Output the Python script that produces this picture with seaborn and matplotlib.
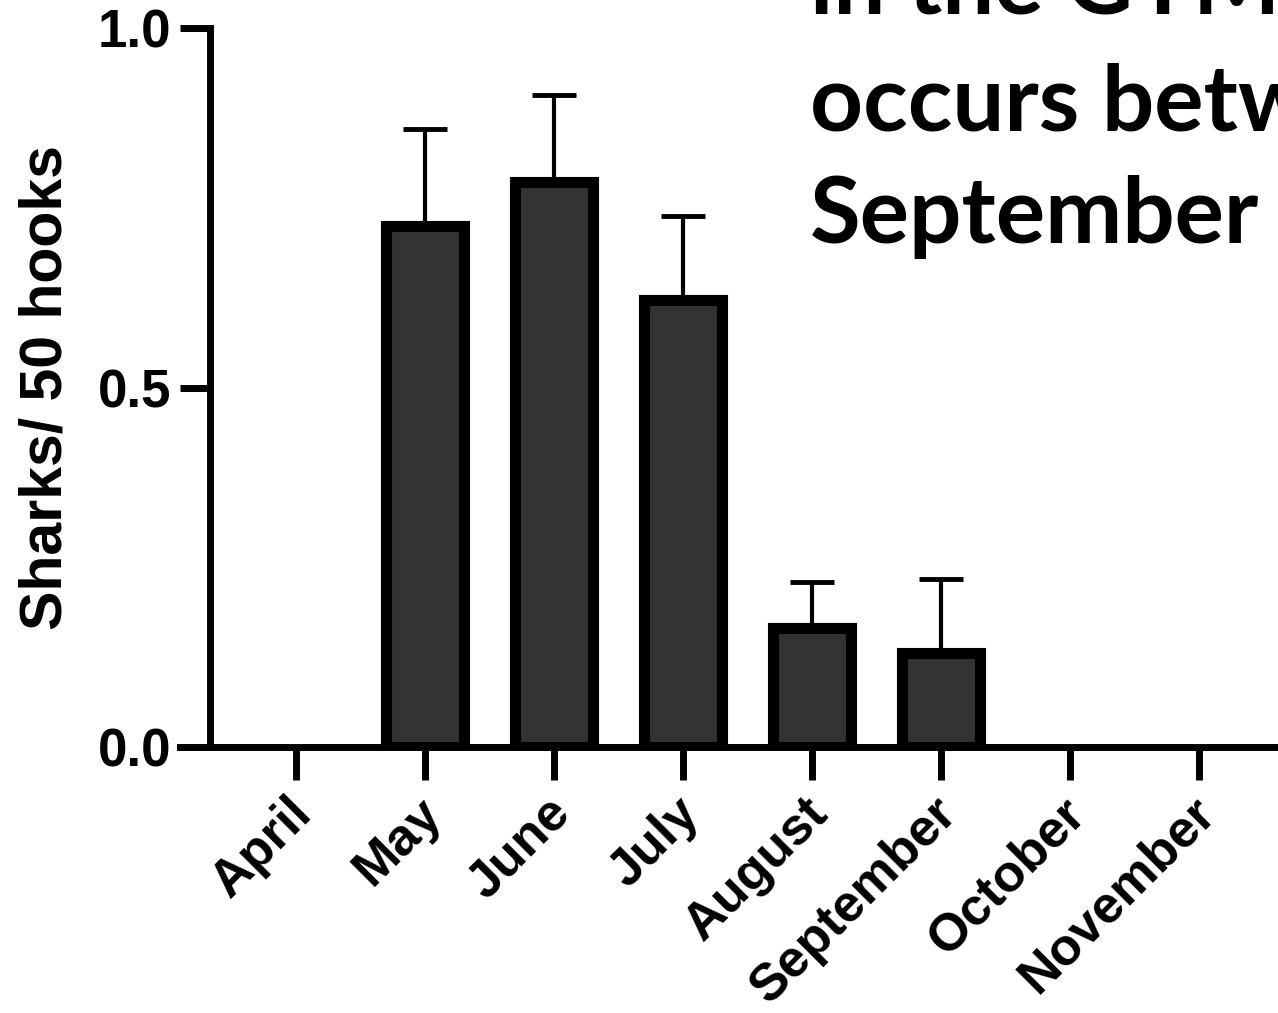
import matplotlib
matplotlib.use("Agg")
import matplotlib.pyplot as plt
import matplotlib.transforms as mtrans
import seaborn as sns
import pandas as pd
import numpy as np

# ---- data ----
months = ["April", "May", "June", "July", "August", "September", "October", "November"]
catch_rate = [0.0, 0.725, 0.786, 0.622, 0.166, 0.131, 0.0, 0.0]
err_upper = [0.0, 0.135, 0.121, 0.117, 0.063, 0.103, 0.0, 0.0]
yticks = [0.0, 0.5, 1.0]
ytick_labels = ["0.0", "0.5", "1.0"]
ylabel = "Sharks/ 50 hooks"
title_lines = ["in the GYM", "occurs between", "September"]

W, H = 1278, 1013
sns.set_theme(style="ticks")
plt.rcParams["font.family"] = ["Liberation Sans", "DejaVu Sans"]
plt.rcParams["text.color"] = "black"
plt.rcParams["axes.labelcolor"] = "black"
plt.rcParams["xtick.color"] = "black"
plt.rcParams["ytick.color"] = "black"

fig = plt.figure(figsize=(W / 100, H / 100), dpi=100)
fig.patch.set_facecolor("white")
ax = fig.add_axes([180 / W, (H - 747) / H, (W - 180) / W, 719 / H])
ax.set_facecolor("white")

df = pd.DataFrame({"month": months, "rate": catch_rate})
sns.barplot(data=df, x="month", y="rate", color="#333333", saturation=1,
            edgecolor="black", linewidth=8, width=0.61, errorbar=None,
            ax=ax, zorder=3)
for p, v in zip(ax.patches, catch_rate):
    if v == 0:
        p.set_linewidth(0)
        p.set_visible(False)

xs = np.arange(len(months))
vals = np.array(catch_rate)
errs = np.array(err_upper)
m = errs > 0
ax.errorbar(xs[m], vals[m], yerr=[np.zeros(m.sum()), errs[m]], fmt="none",
            ecolor="black", elinewidth=3, capsize=16, capthick=3.5, zorder=2)

ax.set_xlim(-0.899, (W - 296) / 129)
ax.set_ylim(0, 1)
for s in ["top", "right"]:
    ax.spines[s].set_visible(False)
ax.spines["left"].set_position(("axes", 30 / (W - 180)))
ax.spines["left"].set_linewidth(5)
ax.spines["bottom"].set_linewidth(5)
ax.spines["left"].set_color("black")
ax.spines["bottom"].set_color("black")

ax.set_yticks(yticks)
ax.set_yticklabels(ytick_labels, fontsize=38, fontweight="bold", color="black")
ax.tick_params(axis="y", direction="out", length=21.6, width=5, color="black", pad=6.5)
ax.tick_params(axis="x", direction="out", length=24, width=5, color="black", pad=25)
ax.set_xticks(xs)
ax.set_xticklabels(months, fontsize=37.5, fontweight="bold", rotation=45, color="black",
                   ha="right", va="baseline", rotation_mode="anchor")
offset = mtrans.ScaledTranslation(18 / 100, 0, fig.dpi_scale_trans)
for lab in ax.get_xticklabels():
    lab.set_transform(lab.get_transform() + offset)
ax.set_xlabel("")
ax.set_ylabel(ylabel, fontsize=42.5, fontweight="bold", color="black")
ax.yaxis.set_label_coords(-0.097, 0.5)

# title lines (partially outside the canvas, as in the reference)
tfam = ["Lato", "DejaVu Sans"]
probe = fig.text(0, 0, title_lines[2], fontsize=70, fontweight="bold", family=tfam)
fig.canvas.draw()
wpx = probe.get_window_extent().width
probe.remove()
tsize = 70 * 450 / wpx
baselines = [13, 130, 243]
for line, yb in zip(title_lines, baselines):
    fig.text(810 / W, 1 - yb / H, line, fontsize=tsize, fontweight="bold",
             family=tfam, va="baseline", ha="left", color="black")

fig.savefig("out.png", dpi=100)
